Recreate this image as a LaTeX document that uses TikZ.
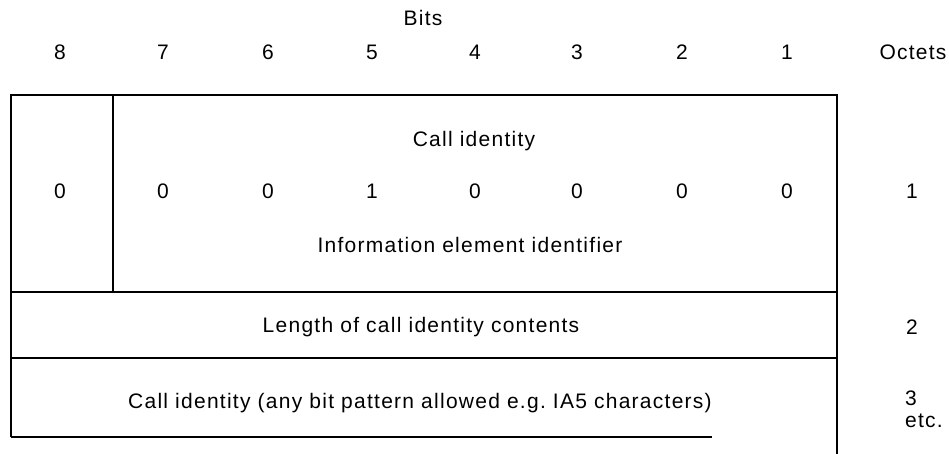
\documentclass[tikz,border=0pt]{standalone}
\usepackage{fontspec}
\setmainfont{Liberation Sans}[LetterSpace=6]
\begin{document}
\begin{tikzpicture}[x=1pt,y=-1pt,
  lbl/.style={inner sep=0pt,font=\fontsize{21}{25}\selectfont},
  frame/.style={line width=1.6pt,black}]
\useasboundingbox[fill=white] (0,0) rectangle (949,454);
% header
\node[lbl] (bits) at (423,18) {Bits};
\foreach \b/\x in {8/60,7/163,6/268,5/372,4/475,3/577,2/682,1/787}{
  \node[lbl] (h\b) at (\x,52) {\b};
}
\node[lbl] (oct) at (913,52) {Octets};
% frame
\coordinate (tl) at (11,95);
\coordinate (tr) at (837,95);
\coordinate (r1l) at (11,292);
\coordinate (r1r) at (837,292);
\coordinate (r2l) at (11,358);
\coordinate (r2r) at (837,358);
\coordinate (bl) at (11,437);
\coordinate (be) at (712,437);
\coordinate (rb) at (837,454);
\coordinate (dt) at (113,95);
\coordinate (db) at (113,292);
\draw[frame] (bl) -- (tl) -- (tr) -- (rb);
\draw[frame] (r1l) -- (r1r);
\draw[frame] (r2l) -- (r2r);
\draw[frame] (bl) -- (be);
\draw[frame] (dt) -- (db);
% row 1
\node[lbl] (ci) at (474,141) {Call identity};
\foreach \b/\x/\v in {8/60/0,7/163/0,6/268/0,5/372/1,4/475/0,3/577/0,2/682/0,1/787/0}{
  \node[lbl] (v\b) at (\x,191) {\v};
}
\node[lbl] (iei) at (470,245) {Information element identifier};
\node[lbl] (o1) at (912,191) {1};
% row 2
\node[lbl] (len) at (421,327) {Length of call identity contents};
\node[lbl] (o2) at (912,327) {2};
% row 3
\node[lbl] (cid) at (420,403) {Call identity (any bit pattern allowed e.g.\ IA5 characters)};
\node[lbl,anchor=north west,align=left] (o3) at (905,391) {3\\[-3pt]etc.};
\end{tikzpicture}
\end{document}
